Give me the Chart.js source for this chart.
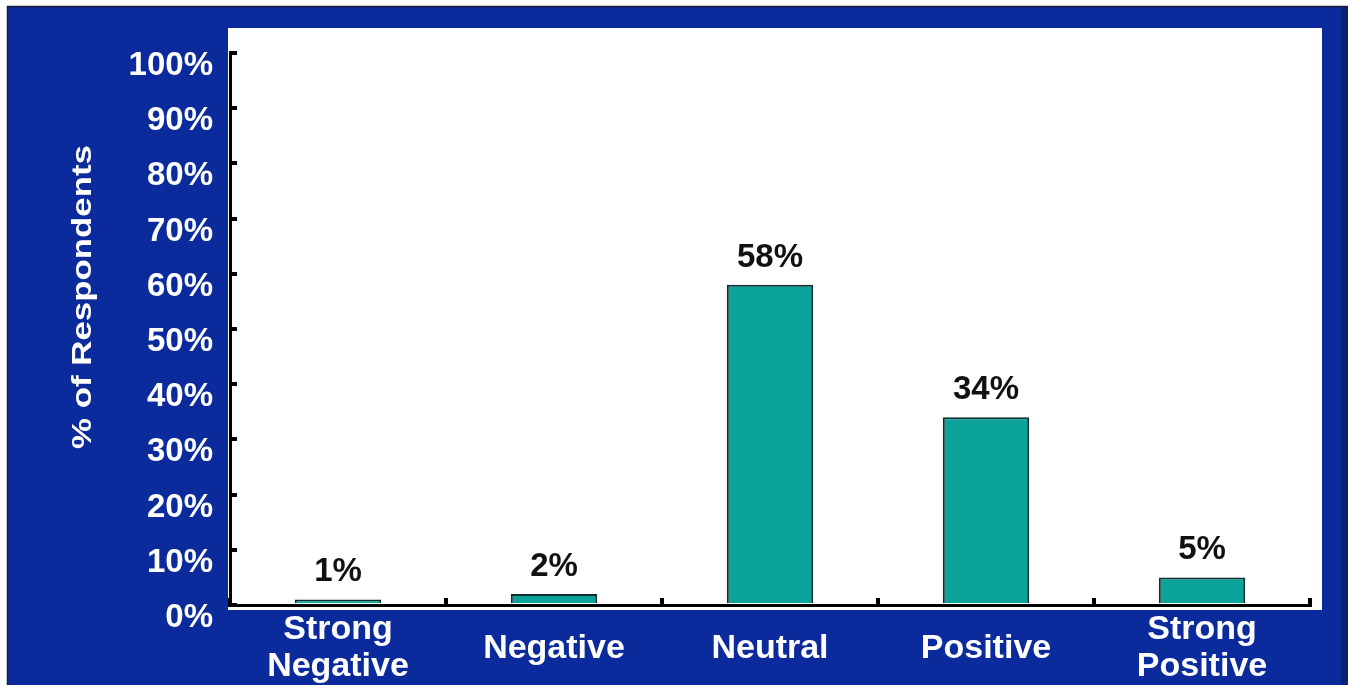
<!DOCTYPE html>
<html>
<head>
<meta charset="utf-8">
<script src="https://cdn.jsdelivr.net/npm/chart.js@4/dist/chart.umd.min.js"></script>
<style>
  html, body { margin: 0; padding: 0; background: #fff; }
  #wrap { position: relative; width: 1348px; height: 685px; }
</style>
</head>
<body>
<div id="wrap"><canvas id="respChart"></canvas></div>
<script>
// survey answers, share of respondents per answer
const categories = [['Strong', 'Negative'], 'Negative', 'Neutral', 'Positive', ['Strong', 'Positive']];
const respondentPct = [1, 2, 58, 34, 5];
const pctTicks = ['0%', '10%', '20%', '30%', '40%', '50%', '60%', '70%', '80%', '90%', '100%'];
const yTitle = '% of Respondents';

const FONT = '"Liberation Sans", Arial, Helvetica, sans-serif';
const NAVY = '#0b2a9c';

// navy slide background with the white plot panel on top
const slideBg = {
	id: 'slideBg',
	beforeDraw(chart) {
		const ctx = chart.ctx;
		const a = chart.chartArea;
		ctx.save();
		ctx.fillStyle = '#fff';
		ctx.fillRect(0, 0, chart.width, chart.height);
		ctx.fillStyle = NAVY;
		ctx.fillRect(7, 6, chart.width - 7, chart.height - 6);
		ctx.fillStyle = '#082174';
		ctx.fillRect(chart.width - 7, 6, 7, chart.height - 6);
		ctx.strokeStyle = '#1b1f3a';
		ctx.lineWidth = 1.5;
		ctx.beginPath();
		ctx.moveTo(7.5, chart.height);
		ctx.lineTo(7.5, 6.5);
		ctx.lineTo(chart.width, 6.5);
		ctx.stroke();
		ctx.fillStyle = '#fff';
		ctx.fillRect(a.left - 2, a.top - 25, a.right - a.left + 14, a.bottom - a.top + 30);
		ctx.restore();
	}
};

// value labels above the bars
const barValues = {
	id: 'barValues',
	afterDatasetsDraw(chart) {
		const ctx = chart.ctx;
		const meta = chart.getDatasetMeta(0);
		ctx.save();
		ctx.fillStyle = '#111';
		ctx.font = 'bold 33px ' + FONT;
		ctx.textAlign = 'center';
		ctx.textBaseline = 'alphabetic';
		meta.data.forEach((bar, i) => {
			ctx.fillText(respondentPct[i] + '%', bar.x, bar.y - 18);
		});
		ctx.restore();
	}
};

// rotated y axis caption, slightly widened like the slide font
const yCaption = {
	id: 'yCaption',
	afterDraw(chart) {
		const ctx = chart.ctx;
		ctx.save();
		ctx.translate(84, 297);
		ctx.rotate(-Math.PI / 2);
		ctx.scale(1.29, 1);
		ctx.fillStyle = '#fff';
		ctx.font = 'bold 27px ' + FONT;
		ctx.textAlign = 'center';
		ctx.textBaseline = 'middle';
		ctx.fillText(yTitle, 0, 0);
		ctx.restore();
	}
};

const data = {
	labels: categories,
	datasets: [{
		data: respondentPct,
		backgroundColor: '#0ca39a',
		borderColor: '#0f2f2f',
		borderWidth: 2,
		barPercentage: 0.4,
		categoryPercentage: 1
	}]
};

const config = {
	type: 'bar',
	data: data,
	options: {
		responsive: true,
		maintainAspectRatio: false,
		animation: false,
		layout: { padding: { top: 53, right: 38, bottom: 0, left: 0 } },
		plugins: {
			legend: { display: false },
			tooltip: { enabled: false }
		},
		scales: {
			x: {
				afterFit: scale => { scale.height = 80; },
				border: { display: true, color: '#000', width: 3 },
				grid: {
					offset: true,
					drawOnChartArea: false,
					drawTicks: true,
					tickLength: -7,
					lineWidth: 4,
					color: '#000'
				},
				ticks: {
					color: '#fff',
					font: { family: FONT, size: 34, weight: 'bold', lineHeight: 1.08 },
					padding: 32,
					crossAlign: 'center',
					maxRotation: 0,
					autoSkip: false
				}
			},
			y: {
				min: 0,
				max: 100,
				afterFit: scale => { scale.width = 230; },
				border: { display: true, color: '#000', width: 3 },
				grid: {
					drawOnChartArea: false,
					drawTicks: true,
					tickLength: -7,
					lineWidth: 4,
					color: '#000'
				},
				ticks: {
					stepSize: 10,
					color: '#fff',
					font: { family: FONT, size: 33, weight: 'bold' },
					padding: 24,
					labelOffset: 13,
					callback: (v, i) => pctTicks[i]
				}
			}
		}
	},
	plugins: [slideBg, barValues, yCaption]
};

var ctx = document.getElementById('respChart').getContext('2d');
var makeBarChart = (ctx, config) => new Chart(ctx, config);
makeBarChart(ctx, config);
</script>
</body>
</html>
